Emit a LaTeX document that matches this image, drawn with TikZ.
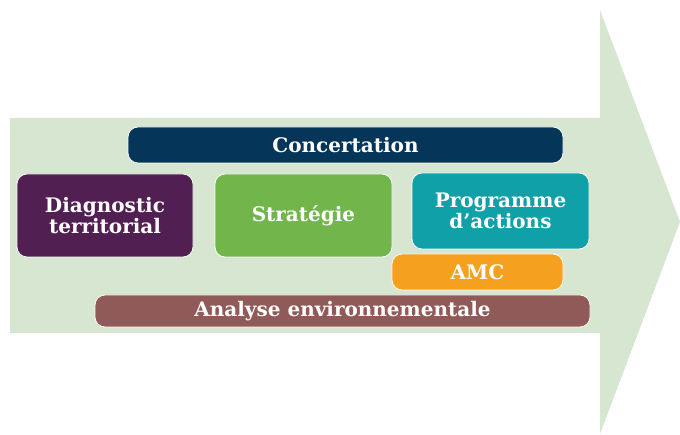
\documentclass[tikz,border=0pt]{standalone}
\usepackage{fontspec}
\setmainfont{DejaVu Serif}
\definecolor{arrowgreen}{HTML}{D7E6D1}
\definecolor{navy}{HTML}{05365A}
\definecolor{plum}{HTML}{521F52}
\definecolor{leaf}{HTML}{72B54B}
\definecolor{teal}{HTML}{0FA0A8}
\definecolor{amber}{HTML}{F5A01F}
\definecolor{rosewood}{HTML}{905A59}
\begin{document}
\begin{tikzpicture}[x=1pt,y=-1pt,
    box/.style={rounded corners=10pt, draw=white!80!arrowgreen, line width=0.8pt,
      text=white, align=center, inner sep=0pt,
      font=\bfseries\fontsize{20}{21}\selectfont}]

    \useasboundingbox (0,0) rectangle (680,435);

    % Arrow
    \fill[arrowgreen] (10,118) -- (600,118) -- (600,10) -- (680,222)
        -- (600,434) -- (600,333) -- (10,333) -- cycle;

    % Bands
    \node[box, fill=navy, minimum width=435, minimum height=36] (concert) at (345.5,145) {Concertation};
    \node[box, fill=rosewood, minimum width=495, minimum height=32] (analyse) at (342.5,311) {Analyse environnementale};

    % Steps
    \node[box, fill=plum, minimum width=176, minimum height=83] (diag) at (105,215.5) {Diagnostic\\territorial};
    \node[box, fill=leaf, minimum width=177, minimum height=83] (strat) at (303.5,215.5) {Stratégie};
    \node[box, fill=teal, minimum width=177, minimum height=76] (prog) at (500.5,211) {Programme\\d’actions};
    \node[box, fill=amber, minimum width=171, minimum height=36] (amc) at (477.5,272) {AMC};

\end{tikzpicture}
\end{document}
